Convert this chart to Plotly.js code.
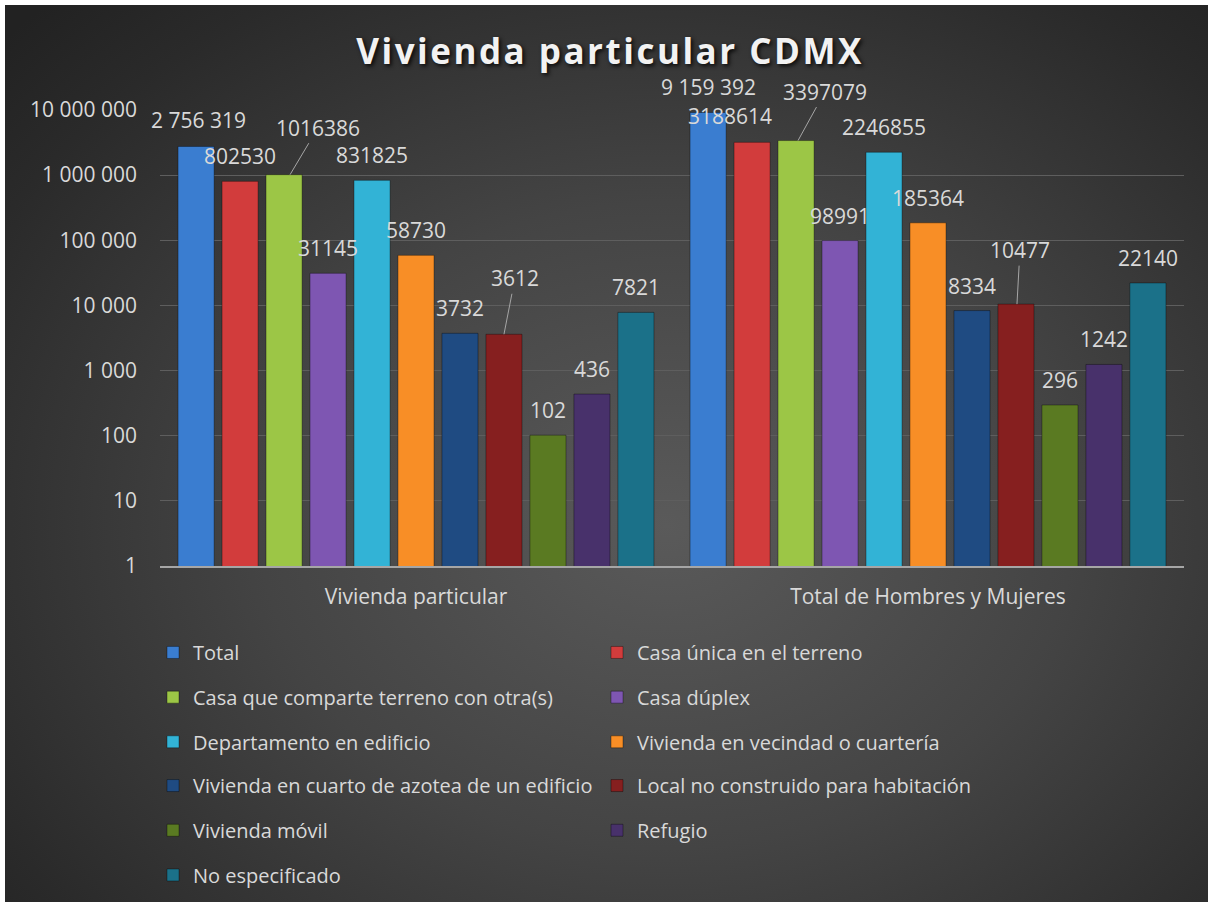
<!DOCTYPE html>
<html>
<head>
<meta charset="utf-8">
<script src="https://cdn.plot.ly/plotly-3.0.1.min.js"></script>
<style>
  html, body { margin: 0; padding: 0; background: #ffffff; }
  #bg { position: absolute; left: 5px; top: 5px; width: 1203px; height: 897px;
        background: radial-gradient(ellipse 75% 80% at 55% 58%, #5a5a5a 0%, #444444 45%, #2a2a2a 85%, #222222 100%); }
  #chart { position: absolute; left: 0; top: 0; width: 1213px; height: 907px; }
</style>
</head>
<body>
<div id="bg"></div>
<div id="chart"></div>
<script>
const categories = ['Vivienda particular', 'Total de Hombres y Mujeres'];
const seriesNames = [
  'Total',
  'Casa única en el terreno',
  'Casa que comparte terreno con otra(s)',
  'Casa dúplex',
  'Departamento en edificio',
  'Vivienda en vecindad o cuartería',
  'Vivienda en cuarto de azotea de un edificio',
  'Local no construido para habitación',
  'Vivienda móvil',
  'Refugio',
  'No especificado'
];
const viviendaParticular = [2756319, 802530, 1016386, 31145, 831825, 58730, 3732, 3612, 102, 436, 7821];
const totalHombresMujeres = [9159392, 3188614, 3397079, 98991, 2246855, 185364, 8334, 10477, 296, 1242, 22140];
const yTickVals = [1, 10, 100, 1000, 10000, 100000, 1000000, 10000000];
const yTickText = ['1', '10', '100', '1 000', '10 000', '100 000', '1 000 000', '10 000 000'];

const colors = ['#3a7dd0', '#d23c3c', '#9cc646', '#7e56b2', '#32b3d6', '#f88e26',
                '#1f4b82', '#861f1f', '#5a7a22', '#48316b', '#1b7189'];

const bargap = 0.055;
const txtColor = '#d9d9d9';
const fontFam = '"Open Sans", Lato, sans-serif';

function fmt(v, spaced) {
  const s = String(v);
  if (!spaced) return s;
  return s.replace(/\B(?=(\d{3})+(?!\d))/g, ' ');
}

// label placement tweaks (pixels) : [catIndex-seriesIndex] -> style
const labelStyle = {
  '0-0': {xshift: 2, yshift: 26},
  '0-2': {arrow: true, tipdx: 6, ax: 28, ay: -47},
  '0-7': {arrow: true, tipdx: 0, ax: 11, ay: -56},
  '1-1': {xshift: -22, yshift: 26},
  '1-2': {arrow: true, tipdx: 2, ax: 27, ay: -49},
  '1-7': {arrow: true, tipdx: 1, ax: 3, ay: -54}
};

const traces = seriesNames.map((name, i) => {
  const row = Math.floor(i / 2);
  return {
    type: 'bar',
    name: name,
    x: categories,
    y: [viviendaParticular[i], totalHombresMujeres[i]],
    marker: { color: colors[i], line: { color: 'rgba(0,0,0,0.35)', width: 1 } },
    legend: row === 0 ? 'legend' : 'legend' + (row + 1),
    hoverinfo: 'name+y'
  };
});

const groupWidth = 1 - bargap;
const slot = groupWidth / seriesNames.length;
const pxPerCat = 512;
const annotations = [];
[viviendaParticular, totalHombresMujeres].forEach((vals, c) => {
  vals.forEach((v, i) => {
    const st = labelStyle[c + '-' + i] || {};
    const xc = c + (i - (seriesNames.length - 1) / 2) * slot;
    const a = {
      xref: 'x', yref: 'y',
      y: Math.log10(v),
      text: fmt(v, i === 0),
      font: { family: fontFam, size: 21, color: txtColor }
    };
    if (st.arrow) {
      a.x = xc + (st.tipdx || 0) / pxPerCat;
      a.showarrow = true;
      a.arrowhead = 0;
      a.arrowwidth = 1;
      a.arrowcolor = '#a6a6a6';
      a.ax = st.ax; a.ay = st.ay;
      a.standoff = 0;
    } else {
      a.x = xc;
      a.showarrow = false;
      a.xshift = st.xshift || 0;
      a.yshift = st.yshift || 25;
    }
    annotations.push(a);
  });
});

const plotLeft = 160, plotTop = 110, plotW = 1024, plotH = 459;
const rowY = [656, 701, 746, 790, 835, 880];
const layout = {
  width: 1213, height: 907,
  margin: { l: plotLeft, r: 1213 - plotLeft - plotW, t: plotTop, b: 907 - plotTop - plotH, pad: 0 },
  paper_bgcolor: 'rgba(0,0,0,0)',
  plot_bgcolor: 'rgba(0,0,0,0)',
  barmode: 'group',
  bargap: bargap,
  bargroupgap: 0.18,
  showlegend: true,
  title: {
    text: 'Vivienda particular CDMX',
    x: 610 / 1213, xanchor: 'center', y: 1 - 52 / 907, yanchor: 'middle', yref: 'container',
    font: { family: fontFam, size: 35, color: '#f2f2f2', weight: 'bold', shadow: '2px 2px 4px rgba(0,0,0,0.85)' }
  },
  font: { family: fontFam, color: txtColor },
  xaxis: {
    type: 'category',
    range: [-0.5, 1.5],
    showgrid: false,
    showline: true, linecolor: '#a6a6a6', linewidth: 2,
    ticks: '', ticklabelstandoff: 11,
    tickfont: { family: fontFam, size: 21, color: txtColor },
    fixedrange: true
  },
  yaxis: {
    type: 'log',
    range: [0, 7],
    tickvals: yTickVals,
    ticktext: yTickText,
    showgrid: true, gridcolor: '#5e5e5e', gridwidth: 1,
    showline: false, zeroline: false,
    ticks: '', ticklabelstandoff: 22,
    tickfont: { family: fontFam, size: 21, color: txtColor },
    fixedrange: true
  },
  annotations: annotations
};

rowY.forEach((py, r) => {
  const key = r === 0 ? 'legend' : 'legend' + (r + 1);
  layout[key] = {
    orientation: 'h',
    x: (153 - plotLeft) / plotW, xanchor: 'left',
    y: (plotTop + plotH - py) / plotH, yanchor: 'middle',
    entrywidth: 399, entrywidthmode: 'pixels',
    bgcolor: 'rgba(0,0,0,0)',
    font: { family: fontFam, size: 20, color: txtColor },
    traceorder: 'normal'
  };
});

Plotly.newPlot('chart', traces, layout, { displayModeBar: false, staticPlot: true }).then(() => {
  const t = document.querySelector('.gtitle');
  if (t) t.style.letterSpacing = '2.5px';
});
</script>
</body>
</html>
